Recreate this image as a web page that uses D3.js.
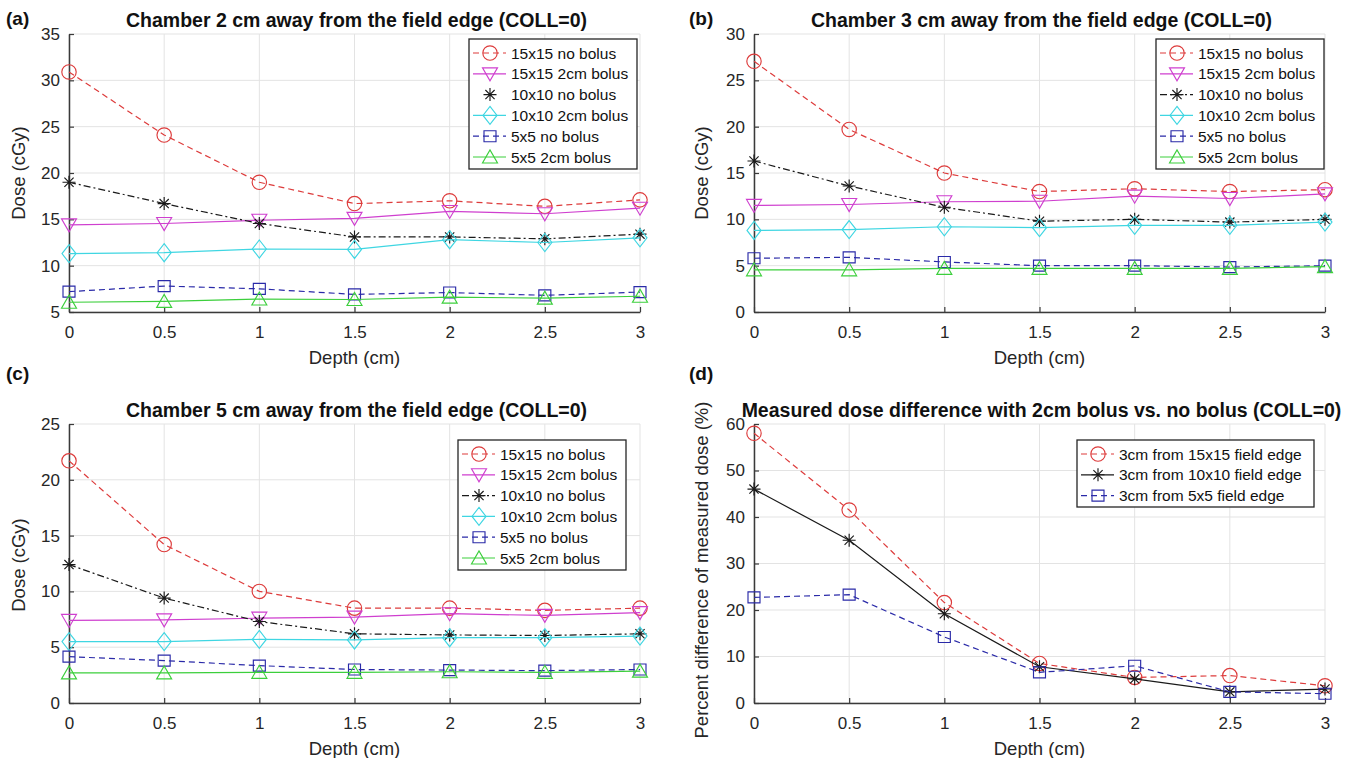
<!DOCTYPE html>
<html><head><meta charset="utf-8">
<script src="https://cdn.jsdelivr.net/npm/d3@7"></script>
<style>
body{margin:0;background:#fff;}
svg{display:block;font-family:"Liberation Sans",Arial,Helvetica,sans-serif;}
</style>
</head><body><svg id="chart" width="1354" height="758"></svg>
<script>
// ---------------- DATA ----------------
const depth = [0, 0.5, 1, 1.5, 2, 2.5, 3];
const xTickLabels = ["0", "0.5", "1", "1.5", "2", "2.5", "3"];
const doseSeriesNames = ["15x15 no bolus", "15x15 2cm bolus", "10x10 no bolus", "10x10 2cm bolus", "5x5 no bolus", "5x5 2cm bolus"];
const diffSeriesNames = ["3cm from 15x15 field edge", "3cm from 10x10 field edge", "3cm from 5x5 field edge"];

// (a) chamber 2 cm away
const a15NoBolus = [30.9, 24.1, 19.0, 16.7, 17.0, 16.4, 17.1];
const a15Bolus   = [14.4, 14.55, 14.9, 15.1, 15.85, 15.6, 16.2];
const a10NoBolus = [19.0, 16.7, 14.55, 13.1, 13.1, 12.9, 13.4];
const a10Bolus   = [11.3, 11.4, 11.8, 11.75, 12.8, 12.5, 13.0];
const a5NoBolus  = [7.2, 7.8, 7.5, 6.9, 7.1, 6.8, 7.15];
const a5Bolus    = [6.05, 6.15, 6.4, 6.35, 6.6, 6.5, 6.7];
// (b) chamber 3 cm away
const b15NoBolus = [27.05, 19.7, 15.0, 13.0, 13.3, 13.0, 13.2];
const b15Bolus   = [11.5, 11.6, 11.9, 11.95, 12.5, 12.25, 12.75];
const b10NoBolus = [16.3, 13.6, 11.3, 9.8, 10.0, 9.7, 10.0];
const b10Bolus   = [8.8, 8.9, 9.2, 9.1, 9.35, 9.35, 9.7];
const b5NoBolus  = [5.8, 5.9, 5.4, 5.0, 5.0, 4.85, 5.0];
const b5Bolus    = [4.55, 4.55, 4.7, 4.7, 4.7, 4.7, 4.9];
// (c) chamber 5 cm away
const c15NoBolus = [21.7, 14.2, 10.0, 8.5, 8.5, 8.3, 8.5];
const c15Bolus   = [7.4, 7.45, 7.6, 7.7, 8.0, 7.85, 8.1];
const c10NoBolus = [12.4, 9.4, 7.3, 6.2, 6.1, 6.05, 6.2];
const c10Bolus   = [5.5, 5.5, 5.7, 5.65, 5.85, 5.85, 6.0];
const c5NoBolus  = [4.15, 3.8, 3.35, 3.0, 2.95, 2.9, 3.0];
const c5Bolus    = [2.7, 2.7, 2.75, 2.75, 2.8, 2.75, 2.85];
// (d) percent difference
const d15 = [58.0, 41.5, 21.6, 8.5, 5.5, 5.9, 3.7];
const d10 = [46.0, 35.0, 19.2, 7.8, 5.2, 2.4, 3.0];
const d5  = [22.7, 23.3, 14.2, 6.6, 8.0, 2.4, 2.0];

const yTicksA = [5, 10, 15, 20, 25, 30, 35];
const yTicksB = [0, 5, 10, 15, 20, 25, 30];
const yTicksC = [0, 5, 10, 15, 20, 25];
const yTicksD = [0, 10, 20, 30, 40, 50, 60];

const panelTitles = [
  "Chamber 2 cm away from the field edge (COLL=0)",
  "Chamber 3 cm away from the field edge (COLL=0)",
  "Chamber 5 cm away from the field edge (COLL=0)",
  "Measured dose difference with 2cm bolus vs. no bolus (COLL=0)"
];
const panelLabels = ["(a)", "(b)", "(c)", "(d)"];
const yLabels = ["Dose (cGy)", "Dose (cGy)", "Dose (cGy)", "Percent difference of measured dose (%)"];
const xLabel = "Depth (cm)";

// ---------------- STYLES ----------------
const RED = "#dd3b3b", MAG = "#cf3fcf", BLK = "#1a1a1a", CYA = "#3fd6e2", BLU = "#2a2aa8", GRN = "#3ccf3c";
const DASH = "6,4", DASHDOT = "7,3,2,3";
const doseStyles = [
  {color: RED, dash: DASH, marker: "circle"},
  {color: MAG, dash: null, marker: "tridown"},
  {color: BLK, dash: DASHDOT, marker: "asterisk"},
  {color: CYA, dash: null, marker: "diamond"},
  {color: BLU, dash: DASH, marker: "square"},
  {color: GRN, dash: null, marker: "triup"}
];
const diffStyles = [
  {color: RED, dash: DASH, marker: "circle"},
  {color: BLK, dash: null, marker: "asterisk"},
  {color: BLU, dash: DASH, marker: "square"}
];

const panels = [
  {left: 69, right: 640, top: 34, bottom: 312, yDomain: [5, 35], yTicks: yTicksA,
   series: [a15NoBolus, a15Bolus, a10NoBolus, a10Bolus, a5NoBolus, a5Bolus], names: doseSeriesNames, styles: doseStyles,
   legend: {x: 469, y: 39, w: 168, h: 130, noLine: [2]}, labelPos: [6, 25], ylabelY: 173},
  {left: 754, right: 1325, top: 34, bottom: 312, yDomain: [0, 30], yTicks: yTicksB,
   series: [b15NoBolus, b15Bolus, b10NoBolus, b10Bolus, b5NoBolus, b5Bolus], names: doseSeriesNames, styles: doseStyles,
   legend: {x: 1156, y: 39, w: 168, h: 130, noLine: []}, labelPos: [689, 25], ylabelY: 173},
  {left: 69, right: 640, top: 424, bottom: 703, yDomain: [0, 25], yTicks: yTicksC,
   series: [c15NoBolus, c15Bolus, c10NoBolus, c10Bolus, c5NoBolus, c5Bolus], names: doseSeriesNames, styles: doseStyles,
   legend: {x: 458, y: 440, w: 168, h: 130, noLine: []}, labelPos: [6, 380], ylabelY: 565},
  {left: 754, right: 1325, top: 424, bottom: 703, yDomain: [0, 60], yTicks: yTicksD,
   series: [d15, d10, d5], names: diffSeriesNames, styles: diffStyles,
   legend: {x: 1077, y: 440, w: 237, h: 67, noLine: []}, labelPos: [689, 380], ylabelY: 570}
];

const svg = d3.select("#chart");
const TXT = "#262626";

function markerPath(type) {
  switch (type) {
    case "circle": return d3.symbol(d3.symbolCircle, Math.PI * 7.2 * 7.2)();
    case "tridown": return "M-7.5,-6L7.5,-6L0,7Z";
    case "triup": return "M-7.5,6L7.5,6L0,-7Z";
    case "diamond": return "M0,-9L7,0L0,9L-7,0Z";
    case "square": return "M-6,-5.5L6,-5.5L6,5.5L-6,5.5Z";
    case "asterisk": return "M0,-6.5L0,6.5M-6.5,0L6.5,0M-4.6,-4.6L4.6,4.6M-4.6,4.6L4.6,-4.6";
  }
}

panels.forEach((p, pi) => {
  const g = svg.append("g");
  const x = d3.scaleLinear().domain([0, 3]).range([p.left, p.right]);
  const y = d3.scaleLinear().domain(p.yDomain).range([p.bottom, p.top]);

  // grid
  g.append("g").selectAll("line").data(depth).join("line")
    .attr("x1", d => x(d)).attr("x2", d => x(d)).attr("y1", p.top).attr("y2", p.bottom)
    .attr("stroke", "#e3e3e3").attr("stroke-width", 1);
  g.append("g").selectAll("line").data(p.yTicks).join("line")
    .attr("x1", p.left).attr("x2", p.right).attr("y1", d => y(d)).attr("y2", d => y(d))
    .attr("stroke", "#e3e3e3").attr("stroke-width", 1);

  // axes via d3
  const xAxis = d3.axisBottom(x).tickValues(depth).tickSizeInner(-5).tickSizeOuter(0)
    .tickFormat((d, i) => xTickLabels[i]).tickPadding(10);
  const yAxis = d3.axisLeft(y).tickValues(p.yTicks).tickSizeInner(-5).tickSizeOuter(0)
    .tickFormat(d3.format("d")).tickPadding(9);
  const gx = g.append("g").attr("transform", `translate(0,${p.bottom})`).call(xAxis);
  const gy = g.append("g").attr("transform", `translate(${p.left},0)`).call(yAxis);
  [gx, gy].forEach(a => {
    a.select(".domain").attr("stroke", "#3a3a3a").attr("stroke-width", 1.5);
    a.selectAll(".tick line").attr("stroke", "#3a3a3a").attr("stroke-width", 1.2);
    a.selectAll(".tick text").attr("fill", TXT).style("font-size", "17px")
      .style("font-family", '"Liberation Sans",Arial,sans-serif');
  });
  gx.selectAll(".tick text").attr("dy", "0.95em");

  // lines & markers
  const line = d3.line().x((d, i) => x(depth[i])).y(d => y(d));
  p.series.forEach((vals, si) => {
    const st = p.styles[si];
    g.append("path").datum(vals).attr("d", line).attr("fill", "none")
      .attr("stroke", st.color).attr("stroke-width", 1.2)
      .attr("stroke-dasharray", st.dash);
    g.append("g").selectAll("path").data(vals).join("path")
      .attr("transform", (d, i) => `translate(${x(depth[i])},${y(d)})`)
      .attr("d", markerPath(st.marker))
      .attr("fill", "none").attr("stroke", st.color).attr("stroke-width", 1.15);
  });

  // legend
  const L = p.legend;
  const lg = g.append("g");
  lg.append("rect").attr("x", L.x).attr("y", L.y).attr("width", L.w).attr("height", L.h)
    .attr("fill", "#fff").attr("stroke", "#262626").attr("stroke-width", 1.3);
  p.names.forEach((name, si) => {
    const st = p.styles[si];
    const cy = L.y + 14 + si * 20.8;
    if (!L.noLine.includes(si)) {
      lg.append("line").attr("x1", L.x + 4).attr("x2", L.x + 37).attr("y1", cy).attr("y2", cy)
        .attr("stroke", st.color).attr("stroke-width", 1.2).attr("stroke-dasharray", st.dash);
    }
    lg.append("path").attr("transform", `translate(${L.x + 21},${cy})`).attr("d", markerPath(st.marker))
      .attr("fill", "none").attr("stroke", st.color).attr("stroke-width", 1.15);
    lg.append("text").attr("x", L.x + 42).attr("y", cy).attr("dy", "0.36em")
      .attr("fill", "#111").style("font-size", "15.5px").text(name);
  });

  // title
  g.append("text").attr("x", (p.left + p.right) / 2 + 2).attr("y", p.top - 7)
    .attr("text-anchor", "middle").attr("fill", "#111").style("font-size", "19.5px").style("font-weight", "bold")
    .text(panelTitles[pi]);
  // panel label
  g.append("text").attr("x", p.labelPos[0]).attr("y", p.labelPos[1])
    .attr("fill", "#111").style("font-size", "19px").style("font-weight", "bold").text(panelLabels[pi]);
  // x label
  g.append("text").attr("x", (p.left + p.right) / 2).attr("y", p.bottom + 52)
    .attr("text-anchor", "middle").attr("fill", TXT).style("font-size", "18.5px").text(xLabel);
  // y label
  const ylx = pi % 2 === 0 ? 19 : 702;
  g.append("text").attr("transform", `translate(${ylx},${p.ylabelY}) rotate(-90)`)
    .attr("text-anchor", "middle").attr("dy", "0.35em").attr("fill", TXT).style("font-size", "18.5px")
    .text(yLabels[pi]);
});
</script>
</body></html>
